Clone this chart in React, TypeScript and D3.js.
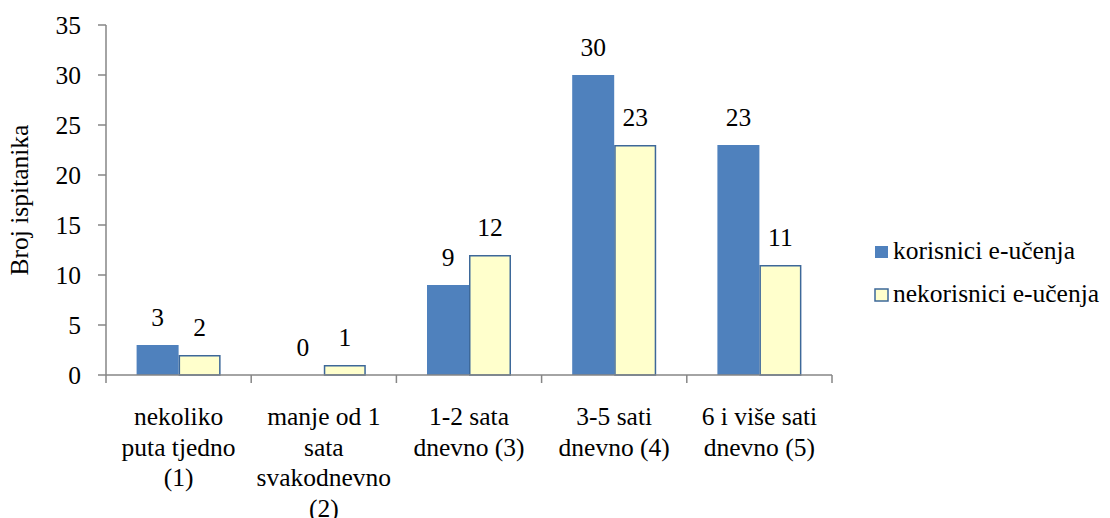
import React from "react";
import * as d3 from "d3";

const categories = [
  ["nekoliko", "puta tjedno", "(1)"],
  ["manje od 1", "sata", "svakodnevno", "(2)"],
  ["1-2 sata", "dnevno (3)"],
  ["3-5 sati", "dnevno (4)"],
  ["6 i više sati", "dnevno (5)"],
];
const seriesNames = ["korisnici e-učenja", "nekorisnici e-učenja"];
const korisnici = [3, 0, 9, 30, 23];
const nekorisnici = [2, 1, 12, 23, 11];
const yTicks = [0, 5, 10, 15, 20, 25, 30, 35];
const yTitle = "Broj ispitanika";

const W = 1110;
const H = 518;
const left = 106;
const right = 832;
const top = 25;
const bottom = 375;
const FS = 25.5;
const FONT = "Liberation Serif";
const AXIS = "#868686";
const BLUE = "#4F81BD";
const YELLOW = "#FFFFCC";
const YSTROKE = "#3D6899";

function T({ x, y, anchor = "middle", rotate = 0, children }: any) {
  return (
    <text
      x={x}
      y={y}
      transform={rotate ? `rotate(${rotate},${x},${y})` : undefined}
      textAnchor={anchor}
      fontFamily={FONT}
      fontSize={FS}
      fill="#000"
    >
      {children}
    </text>
  );
}

export default function App() {
  const idx = categories.map((_, i) => String(i));
  const x0 = d3.scaleBand().domain(idx).range([left, right]).paddingInner(0.4215).paddingOuter(0.4215 / 2);
  const x1 = d3.scaleBand().domain(["0", "1"]).range([0, x0.bandwidth()]).padding(0);
  const y = d3.scaleLinear().domain([0, 35]).range([bottom, top]);
  const step = x0.step();
  const series = [korisnici, nekorisnici];

  return (
    <svg width={W} height={H} style={{ position: "absolute", left: 0, top: 0, fontFamily: FONT }}>
      <rect width={W} height={H} fill="#fff" />
      {/* y axis */}
      <line x1={left} x2={left} y1={y(35)} y2={y(0)} stroke={AXIS} strokeWidth={1.5} />
      {yTicks.map((t) => (
        <g key={t}>
          <line x1={left - 8} x2={left} y1={y(t)} y2={y(t)} stroke={AXIS} strokeWidth={1.5} />
          <T x={81} y={y(t) + 8.5} anchor="end">{t}</T>
        </g>
      ))}
      <T x={28} y={(top + bottom) / 2} rotate={-90}>{yTitle}</T>
      {/* bars */}
      {series.map((vals, s) =>
        vals.map((v, i) => {
          const bx = (x0(String(i)) as number) + (x1(String(s)) as number);
          const bw = x1.bandwidth();
          const isY = s === 1;
          return (
            <g key={`${s}-${i}`}>
              {v > 0 && (
                <rect
                  x={isY ? bx + 0.75 : bx}
                  y={isY ? y(v) + 0.75 : y(v)}
                  width={isY ? bw - 1.5 : bw}
                  height={isY ? y(0) - y(v) - 0.75 : y(0) - y(v)}
                  fill={isY ? YELLOW : BLUE}
                  stroke={isY ? YSTROKE : "none"}
                  strokeWidth={1.5}
                />
              )}
              <T x={bx + bw / 2} y={y(v) - 19}>{v}</T>
            </g>
          );
        })
      )}
      {/* x axis */}
      <line x1={left} x2={right} y1={bottom} y2={bottom} stroke={AXIS} strokeWidth={1.5} />
      {d3.range(categories.length + 1).map((i) => (
        <line key={i} x1={left + i * step} x2={left + i * step} y1={bottom} y2={bottom + 8} stroke={AXIS} strokeWidth={1.5} />
      ))}
      {categories.map((lines, i) => (
        <g key={i}>
          {lines.map((ln, j) => (
            <T key={j} x={(x0(String(i)) as number) + x0.bandwidth() / 2} y={425 + j * 30.5}>{ln}</T>
          ))}
        </g>
      ))}
      {/* legend */}
      {seriesNames.map((n, i) => (
        <g key={n}>
          <rect
            x={875}
            y={246 + i * 43}
            width={13}
            height={12}
            fill={i === 0 ? BLUE : YELLOW}
            stroke={i === 0 ? "none" : YSTROKE}
            strokeWidth={1.5}
          />
          <T x={893} y={258.5 + i * 43} anchor="start">{n}</T>
        </g>
      ))}
    </svg>
  );
}
